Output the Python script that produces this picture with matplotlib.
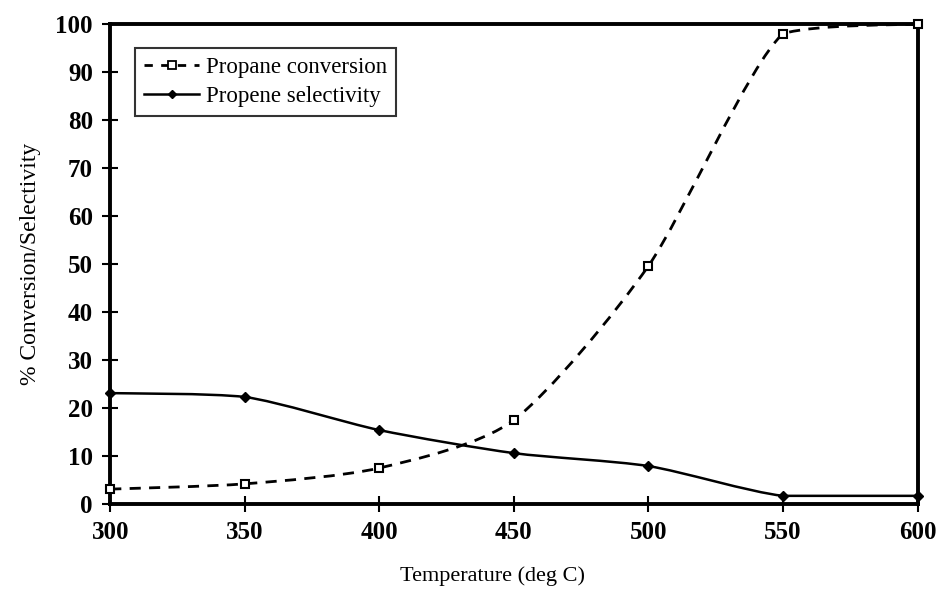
import matplotlib
matplotlib.use("Agg")
import matplotlib.pyplot as plt
import numpy as np
from matplotlib.path import Path
from matplotlib.patches import PathPatch
from matplotlib.lines import Line2D

plt.rcParams['font.family'] = ['Liberation Serif', 'DejaVu Serif']

# data
temperature = [300, 350, 400, 450, 500, 550, 600]
conversion = [3.1, 4.2, 7.5, 17.5, 49.6, 98.0, 100.0]
selectivity = [23.1, 22.3, 15.4, 10.6, 7.9, 1.7, 1.7]


def smooth_path(x, y, k=8.0):
    # lightly smoothed line (Catmull-Rom style Bezier), no overshoot
    x = np.asarray(x, float)
    y = np.asarray(y, float)
    verts = [(x[0], y[0])]
    codes = [Path.MOVETO]
    n = len(x)
    for i in range(n - 1):
        x0, y0 = (x[i - 1], y[i - 1]) if i > 0 else (x[i], y[i])
        x3, y3 = (x[i + 2], y[i + 2]) if i + 2 < n else (x[i + 1], y[i + 1])
        lo, hi = min(y[i], y[i + 1]), max(y[i], y[i + 1])
        c1y = np.clip(y[i] + (y[i + 1] - y0) / k, lo, hi)
        c2y = np.clip(y[i + 1] - (y3 - y[i]) / k, lo, hi)
        c1 = (x[i] + (x[i + 1] - x0) / k, c1y)
        c2 = (x[i + 1] - (x3 - x[i]) / k, c2y)
        verts += [c1, c2, (x[i + 1], y[i + 1])]
        codes += [Path.CURVE4] * 3
    return Path(verts, codes)


fig = plt.figure(figsize=(9.42, 6.0), dpi=100)
ax = fig.add_axes([0.117, 0.16, 0.857, 0.80])

ax.add_patch(PathPatch(smooth_path(temperature, conversion), fill=False,
                       edgecolor='black', lw=2.0, linestyle=(0, (4, 3)),
                       clip_on=False))
ax.add_patch(PathPatch(smooth_path(temperature, selectivity), fill=False,
                       edgecolor='black', lw=1.8))
ax.plot(temperature, conversion, linestyle='none', marker='s', markersize=6,
        markerfacecolor='white', markeredgecolor='black', markeredgewidth=1.5,
        zorder=4, clip_on=False)
ax.plot(temperature, selectivity, linestyle='none', marker='D', markersize=5,
        color='black', zorder=4, clip_on=False)

ax.set_xlim(300, 600)
ax.set_ylim(0, 100)
ax.set_xticks(range(300, 601, 50))
ax.set_yticks(range(0, 101, 10))
for s in ax.spines.values():
    s.set_linewidth(2.8)
ax.tick_params(direction='inout', length=11, width=1.5, labelsize=18, pad=7)
for lab in ax.get_xticklabels() + ax.get_yticklabels():
    lab.set_fontweight('bold')

ax.set_xlabel('Temperature (deg C)', fontsize=16, labelpad=14)
ax.xaxis.set_label_coords(0.473, -0.13)
ax.set_ylabel('% Conversion/Selectivity', fontsize=17, labelpad=10)

handles = [
    Line2D([], [], color='black', lw=2.0, linestyle=(0, (3, 3)), marker='s',
           markersize=6, markerfacecolor='white', markeredgewidth=1.3),
    Line2D([], [], color='black', lw=1.8, marker='D', markersize=4),
]
leg = ax.legend(handles, ['Propane conversion', 'Propene selectivity'],
                loc='upper left', bbox_to_anchor=(0.025, 0.96), fontsize=16.5,
                frameon=True, fancybox=False, edgecolor='black',
                handlelength=2.4, handletextpad=0.3, borderpad=0.4,
                labelspacing=0.35, borderaxespad=0.2)
leg.get_frame().set_linewidth(1.5)

fig.savefig('out.png', dpi=100, facecolor='white')
